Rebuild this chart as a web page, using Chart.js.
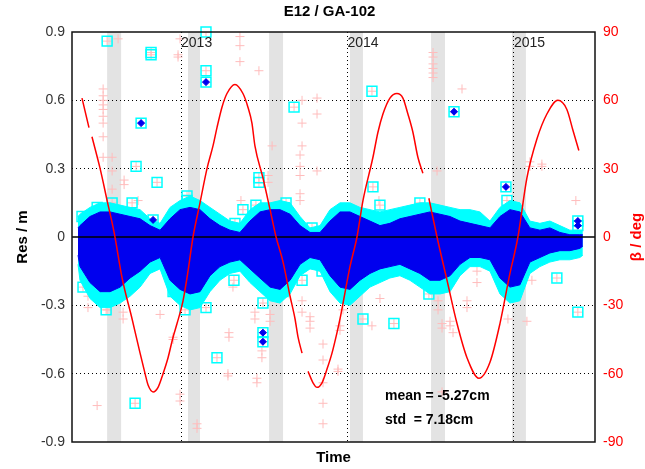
<!DOCTYPE html>
<html>
<head>
<meta charset="utf-8">
<script src="https://cdn.jsdelivr.net/npm/chart.js@4/dist/chart.umd.min.js"></script>
<style>
  body { margin: 0; background: #fff; }
  canvas { display: block; }
</style>
</head>
<body>
<canvas id="myChart" width="645" height="469"></canvas>
<script>
// axis limits and ticks (decimal years / metres / degrees)
const timeMin = 2012.345;
const timeMax = 2015.487;
const yearTicks = [2013, 2014, 2015];
const resTicks = [-0.9, -0.6, -0.3, 0, 0.3, 0.6, 0.9];
const betaTicks = [-90, -60, -30, 0, 30, 60, 90];

// grey eclipse seasons
const eclipseStart = [2012.556, 2013.042, 2013.529, 2014.015, 2014.502, 2014.988];
const eclipseEnd = [2012.640, 2013.114, 2013.613, 2014.093, 2014.586, 2015.072];

// envelope of the dense residual cloud
const bandT = [2012.381, 2012.393, 2012.453, 2012.514, 2012.574, 2012.634, 2012.694, 2012.754, 2012.814, 2012.874,
  2012.934, 2012.994, 2013.054, 2013.114, 2013.174, 2013.234, 2013.294, 2013.354, 2013.414, 2013.474,
  2013.535, 2013.595, 2013.655, 2013.715, 2013.775, 2013.835, 2013.895, 2013.955, 2014.015, 2014.075,
  2014.135, 2014.195, 2014.255, 2014.315, 2014.375, 2014.435, 2014.495, 2014.556, 2014.616, 2014.676,
  2014.736, 2014.796, 2014.856, 2014.916, 2014.976, 2015.036, 2015.096, 2015.156, 2015.216, 2015.276,
  2015.336, 2015.396, 2015.414];
const cyanHigh = [0.09, 0.10, 0.13, 0.15, 0.15, 0.14, 0.13, 0.12, 0.08, 0.06,
  0.13, 0.16, 0.18, 0.16, 0.13, 0.10, 0.07, 0.06, 0.12, 0.15,
  0.15, 0.16, 0.15, 0.09, 0.04, 0.05, 0.12, 0.15, 0.15, 0.13,
  0.12, 0.11, 0.12, 0.13, 0.14, 0.15, 0.15, 0.14, 0.13, 0.12,
  0.12, 0.11, 0.07, 0.13, 0.16, 0.15, 0.07, 0.06, 0.07, 0.05,
  0.03, 0.03, 0.03];
const cyanLow = [-0.12, -0.19, -0.27, -0.31, -0.31, -0.29, -0.26, -0.22, -0.16, -0.14,
  -0.26, -0.30, -0.32, -0.31, -0.24, -0.19, -0.16, -0.15, -0.20, -0.24,
  -0.28, -0.29, -0.25, -0.17, -0.14, -0.15, -0.24, -0.29, -0.30, -0.26,
  -0.22, -0.20, -0.18, -0.17, -0.19, -0.22, -0.25, -0.25, -0.24, -0.17,
  -0.13, -0.13, -0.15, -0.25, -0.29, -0.28, -0.16, -0.13, -0.11, -0.10,
  -0.10, -0.09, -0.08];
const blueHigh = [0.04, 0.05, 0.09, 0.11, 0.11, 0.10, 0.09, 0.08, 0.05, 0.03,
  0.08, 0.12, 0.13, 0.12, 0.08, 0.05, 0.03, 0.02, 0.07, 0.11,
  0.12, 0.12, 0.10, 0.05, 0.02, 0.02, 0.07, 0.11, 0.11, 0.09,
  0.07, 0.05, 0.06, 0.08, 0.09, 0.10, 0.11, 0.10, 0.09, 0.07,
  0.06, 0.05, 0.04, 0.09, 0.12, 0.11, 0.04, 0.03, 0.04, 0.02,
  0.01, 0.01, 0.01];
const blueLow = [-0.08, -0.13, -0.20, -0.24, -0.24, -0.22, -0.18, -0.15, -0.11, -0.09,
  -0.19, -0.23, -0.25, -0.24, -0.17, -0.13, -0.11, -0.10, -0.14, -0.18,
  -0.22, -0.23, -0.19, -0.12, -0.09, -0.10, -0.17, -0.22, -0.23, -0.19,
  -0.16, -0.14, -0.13, -0.12, -0.14, -0.16, -0.19, -0.19, -0.17, -0.12,
  -0.09, -0.09, -0.10, -0.18, -0.22, -0.21, -0.11, -0.09, -0.07, -0.06,
  -0.06, -0.05, -0.04];

// cyan squares (screened points)
const boxT = [2012.556, 2012.820, 2012.820, 2012.760, 2012.730, 2012.856, 2013.150, 2013.150, 2013.150, 2013.468,
  2013.468, 2013.679, 2012.832, 2014.147, 2014.153, 2014.640, 2014.952, 2015.384, 2015.384, 2014.195,
  2012.724, 2013.216, 2013.318, 2013.492, 2013.492, 2013.150, 2014.093, 2014.279, 2014.489, 2015.258,
  2015.384, 2012.405, 2012.496, 2012.586, 2012.706, 2013.036, 2013.036, 2013.324, 2013.372, 2013.450,
  2013.631, 2013.787, 2014.435, 2014.958, 2012.411, 2012.550, 2012.952, 2013.024, 2013.492, 2013.613,
  2013.727, 2013.847];
const boxRes = [0.86, 0.81, 0.80, 0.50, 0.31, 0.24, 0.90, 0.73, 0.68, 0.26,
  0.24, 0.57, 0.075, 0.64, 0.22, 0.55, 0.22, 0.07, 0.05, 0.14,
  -0.73, -0.53, -0.19, -0.42, -0.46, -0.31, -0.36, -0.38, -0.25, -0.18,
  -0.33, 0.09, 0.13, 0.15, 0.15, 0.18, 0.16, 0.06, 0.12, 0.14,
  0.15, 0.04, 0.15, 0.16, -0.22, -0.32, -0.24, -0.32, -0.29, -0.24,
  -0.19, -0.15];

// blue diamonds outside the cloud
const dotT = [2012.760, 2013.150, 2012.832, 2013.492, 2013.492, 2014.640, 2014.952, 2015.384, 2015.384];
const dotRes = [0.50, 0.68, 0.075, -0.42, -0.46, 0.55, 0.22, 0.07, 0.05];

// pink crosses (rejected points)
const crossT = [
  2012.532, 2012.532, 2012.532, 2012.532, 2012.532, 2012.532, 2012.532, 2012.532, 2012.532,
  2012.586, 2012.586, 2012.586, 2012.658, 2012.658, 2012.742, 2012.622, 2012.982, 2012.982, 2012.994,
  2013.354, 2013.354, 2013.354, 2013.468, 2013.547, 2013.727, 2013.727, 2013.727,
  2013.715, 2013.715, 2013.715, 2013.715, 2013.715, 2013.817, 2013.817, 2013.817, 2013.360, 2013.523, 2013.523,
  2014.514, 2014.514, 2014.514, 2014.514, 2014.514, 2014.514, 2014.688, 2014.538,
  2015.096, 2015.096, 2015.168, 2015.168, 2015.372, 2014.189,
  2012.496, 2012.441, 2012.441, 2012.556, 2012.652, 2012.652, 2012.874, 2012.952, 2012.952,
  2012.994, 2012.994, 2013.096, 2013.096, 2013.282, 2013.282, 2013.288, 2013.288, 2013.312,
  2013.444, 2013.444, 2013.456, 2013.456, 2013.486, 2013.486, 2013.535, 2013.535, 2013.727, 2013.727,
  2013.775, 2013.775, 2013.775, 2013.853, 2013.853, 2013.853, 2013.853, 2013.853,
  2013.943, 2013.943, 2013.955, 2013.955, 2013.973, 2014.147, 2014.195,
  2014.544, 2014.544, 2014.568, 2014.568, 2014.616, 2014.616, 2014.634, 2014.718, 2014.718,
  2014.778, 2014.778, 2014.568, 2014.964, 2015.078, 2015.108];
const crossRes = [
  0.65, 0.62, 0.60, 0.58, 0.56, 0.53, 0.50, 0.44, 0.35,
  0.35, 0.29, 0.21, 0.25, 0.23, 0.16, 0.87, 0.80, 0.79, 0.87,
  0.88, 0.84, 0.77, 0.73, 0.40, 0.60, 0.50, 0.40,
  0.36, 0.31, 0.27, 0.19, 0.16, 0.61, 0.54, 0.29, 0.16, 0.27, 0.24,
  0.81, 0.79, 0.76, 0.74, 0.72, 0.70, 0.65, 0.29,
  0.33, 0.31, 0.32, 0.31, 0.16, 0.16,
  -0.74, -0.26, -0.31, -0.32, -0.33, -0.36, -0.34, -0.44, -0.45,
  -0.69, -0.72, -0.82, -0.84, -0.60, -0.61, -0.42, -0.44, -0.22,
  -0.33, -0.36, -0.62, -0.64, -0.50, -0.53, -0.34, -0.37, -0.28, -0.33,
  -0.35, -0.37, -0.40, -0.47, -0.54, -0.64, -0.73, -0.82,
  -0.58, -0.59, -0.39, -0.41, -0.32, -0.39, -0.27,
  -0.28, -0.32, -0.38, -0.40, -0.37, -0.39, -0.42, -0.28, -0.31,
  -0.15, -0.20, -0.68, -0.36, -0.37, -0.19];

// sun elevation beta (right axis), null = gap
const betaT = [2012.405, 2012.447, 2012.456, 2012.465, 2012.514, 2012.556, 2012.598, 2012.646, 2012.706, 2012.754,
  2012.784, 2012.802, 2012.832, 2012.862, 2012.892, 2012.922, 2012.952, 2012.976, 2013.012, 2013.042,
  2013.072, 2013.114, 2013.156, 2013.192, 2013.216, 2013.246, 2013.276, 2013.324, 2013.372, 2013.402,
  2013.426, 2013.444, 2013.492, 2013.535, 2013.571, 2013.613, 2013.655, 2013.685, 2013.703, 2013.727,
  2013.745, 2013.763, 2013.793, 2013.817, 2013.847, 2013.877, 2013.907, 2013.937, 2013.955, 2014.015,
  2014.057, 2014.093, 2014.153, 2014.183, 2014.213, 2014.255, 2014.297, 2014.333, 2014.363, 2014.393,
  2014.423, 2014.453, 2014.471, 2014.489, 2014.538, 2014.598, 2014.658, 2014.718, 2014.790, 2014.856,
  2014.916, 2014.976, 2015.024, 2015.078, 2015.138, 2015.198, 2015.264, 2015.318, 2015.354, 2015.390];
const betaDeg = [61, 48, null, 44, 30, 16, 2, -18, -36, -51,
  -60, -65, -68, -66, -60, -53, -44, -38, -28, -15,
  0, 15, 30, 40, 48, 57, 63, 67, 63, 57,
  50, 40, 26, 12, 0, -11, -26, -36, -44, -51,
  null, -59, -64, -66, -64, -58, -51, -42, -36, -13,
  0, 16, 35, 46, 54, 61, 63, 61, 54, 46,
  35, 28, null, 17, 0, -19, -38, -53, -62, -55,
  -38, -16, 0, 26, 43, 54, 60, 56, 47, 38];

const statT = 2014.225;
const statRes = [-0.70, -0.805];
const statText = ["mean = -5.27cm", "std  = 7.18cm"];

const FONT = '"Liberation Sans", Arial, sans-serif';
Chart.defaults.font.family = FONT;

const pts = (ts, vs) => ts.map((t, i) => ({ x: t, y: vs[i] }));

const decor = {
  id: 'decor',
  beforeDraw(c) {
    const { ctx, chartArea: a, scales: { x } } = c;
    ctx.save();
    ctx.fillStyle = '#e3e3e3';
    eclipseStart.forEach((s, i) => {
      const x0 = x.getPixelForValue(s);
      const x1 = x.getPixelForValue(eclipseEnd[i]);
      ctx.fillRect(x0, a.top, x1 - x0, a.bottom - a.top);
    });
    ctx.restore();
  },
  afterDraw(c) {
    const { ctx, chartArea: a, scales: { x, y } } = c;
    ctx.save();
    ctx.strokeStyle = '#111';
    ctx.lineWidth = 1.5;
    ctx.strokeRect(a.left, a.top, a.right - a.left, a.bottom - a.top);

    ctx.fillStyle = '#000';
    ctx.font = 'bold 15px ' + FONT;
    ctx.textAlign = 'center';
    ctx.textBaseline = 'middle';
    ctx.fillText('E12 / GA-102', (a.left + a.right) / 2 - 4, 12);

    ctx.font = '14px ' + FONT;
    ctx.fillStyle = '#222';
    ctx.textAlign = 'left';
    yearTicks.forEach(yr => {
      ctx.fillText(String(yr), x.getPixelForValue(yr), a.top + 11);
    });

    ctx.fillStyle = '#000';
    ctx.font = 'bold 14px ' + FONT;
    statText.forEach((s, i) => {
      ctx.fillText(s, x.getPixelForValue(statT), y.getPixelForValue(statRes[i]));
    });

    ctx.fillStyle = '#ff0000';
    ctx.font = 'bold 15px ' + FONT;
    ctx.textAlign = 'center';
    ctx.translate(637, (a.top + a.bottom) / 2);
    ctx.rotate(-Math.PI / 2);
    ctx.fillText('β / deg', 0, 0);
    ctx.restore();
  }
};

new Chart(document.getElementById('myChart'), {
  type: 'line',
  data: {
    datasets: [
      {
        data: pts(betaT, betaDeg), yAxisID: 'y2', borderColor: '#ff0000', borderWidth: 1.5,
        pointRadius: 0, cubicInterpolationMode: 'monotone', spanGaps: false, order: 0
      },
      {
        data: [{ x: timeMin, y: 0 }, { x: timeMax, y: 0 }], borderColor: '#000', borderWidth: 1.5,
        pointRadius: 0, order: 1
      },
      {
        data: pts(dotT, dotRes), showLine: false, pointStyle: 'rectRot', pointRadius: 3.5,
        pointBackgroundColor: '#0000ee', pointBorderColor: '#0000ee', pointBorderWidth: 1, order: 2, clip: false
      },
      {
        data: pts(bandT, blueLow), borderColor: '#0000ee', borderWidth: 1, pointRadius: 0, order: 4
      },
      {
        data: pts(bandT, blueHigh), borderColor: '#0000ee', borderWidth: 1, pointRadius: 0,
        fill: { target: 3 }, backgroundColor: '#0000ee', order: 3
      },
      {
        data: pts(boxT, boxRes), showLine: false, pointStyle: 'rect', pointRadius: 7,
        pointBackgroundColor: 'rgba(0,0,0,0)', pointBorderColor: '#00ffff', pointBorderWidth: 1.5,
        order: 5, clip: false
      },
      {
        data: pts(bandT, cyanLow), borderColor: '#00ffff', borderWidth: 1, pointRadius: 0, order: 7
      },
      {
        data: pts(bandT, cyanHigh), borderColor: '#00ffff', borderWidth: 1, pointRadius: 0,
        fill: { target: 6 }, backgroundColor: '#00ffff', order: 6
      },
      {
        data: pts(crossT.concat(boxT), crossRes.concat(boxRes)), showLine: false, pointStyle: 'cross',
        pointRadius: 4.5, pointBorderColor: '#ffbcbc', pointBorderWidth: 1, order: 8
      }
    ]
  },
  options: {
    responsive: false,
    animation: false,
    devicePixelRatio: 1,
    layout: { padding: { top: 32, left: 0, right: 0, bottom: 0 } },
    plugins: { legend: { display: false }, tooltip: { enabled: false }, title: { display: false } },
    scales: {
      x: {
        type: 'linear', min: timeMin, max: timeMax,
        afterBuildTicks: s => { s.ticks = yearTicks.map(v => ({ value: v })); },
        afterFit: s => { s.height = 27; },
        ticks: { display: false },
        grid: { drawTicks: false, color: '#000', lineWidth: 1 },
        border: { display: false, dash: [1, 3] },
        title: {
          display: true, text: 'Time', color: '#000',
          font: { size: 15, weight: 'bold' }, padding: { top: 0, bottom: 2 }
        }
      },
      y: {
        type: 'linear', position: 'left', min: -0.9, max: 0.9,
        afterBuildTicks: s => { s.ticks = resTicks.map(v => ({ value: v })); },
        afterFit: s => { s.width = 72; },
        ticks: { padding: 7, color: '#333', font: { size: 14 }, callback: v => String(v) },
        grid: {
          drawTicks: false, lineWidth: 1,
          color: c => (c.tick && c.tick.value !== 0 && Math.abs(c.tick.value) < 0.85) ? '#000' : 'rgba(0,0,0,0)'
        },
        border: { display: false, dash: [1, 3] },
        title: {
          display: true, text: 'Res / m', color: '#000',
          font: { size: 15, weight: 'bold' }, padding: { top: 14, bottom: 0 }
        }
      },
      y2: {
        type: 'linear', position: 'right', min: -90, max: 90,
        afterBuildTicks: s => { s.ticks = betaTicks.map(v => ({ value: v })); },
        afterFit: s => { s.width = 50; },
        ticks: { padding: 8, color: '#ff0000', font: { size: 14 }, callback: v => String(v) },
        grid: { drawOnChartArea: false, drawTicks: false },
        border: { display: false }
      }
    }
  },
  plugins: [decor]
});
</script>
</body>
</html>
